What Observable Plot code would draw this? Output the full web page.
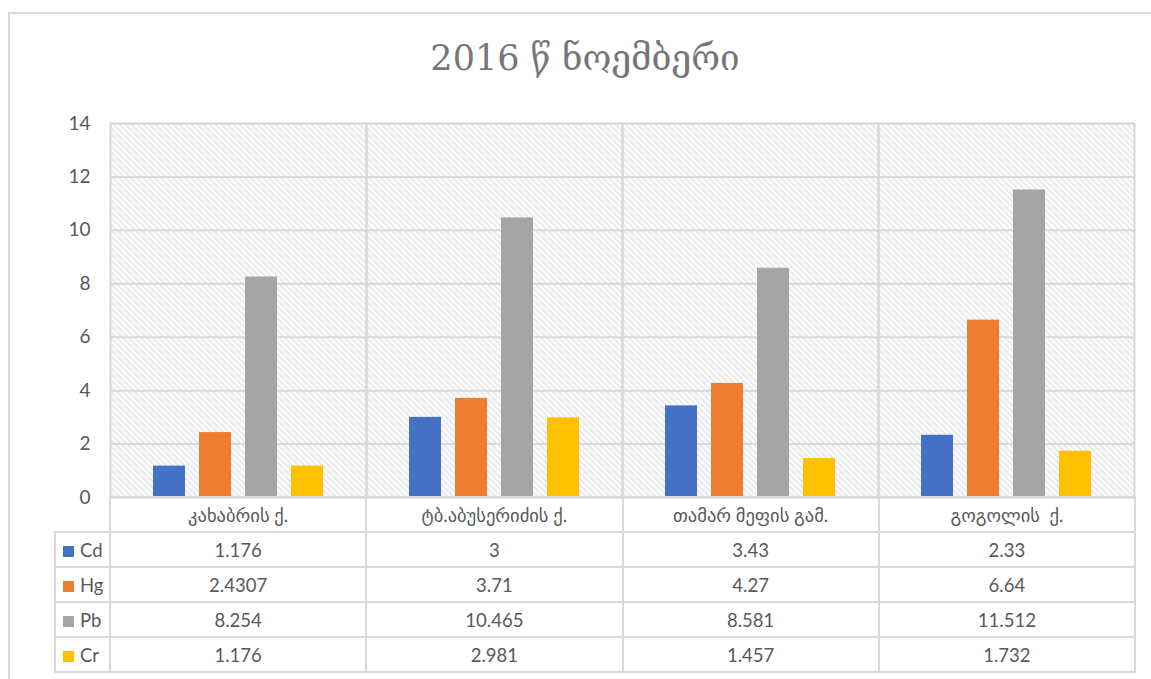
<!DOCTYPE html>
<html>
<head>
<meta charset="utf-8">
<script src="https://cdn.jsdelivr.net/npm/d3@7"></script>
<script src="https://cdn.jsdelivr.net/npm/@observablehq/plot@0.6"></script>
<style>
  body { margin: 0; background: #fff; font-family: Lato, "DejaVu Sans", sans-serif; }
  #wrap { position: relative; width: 1151px; height: 679px; overflow: hidden; }
  #outer { position: absolute; left: 8px; top: 12px; width: 1170px; height: 720px; border: 2px solid #d9d9d9; box-sizing: border-box; }
  #title { position: absolute; left: 10px; width: 1150px; top: 38px; text-align: center; font-family: "DejaVu Serif", serif; font-size: 35px; color: #767676; }
  #chart { position: absolute; left: 0; top: 0; }
  #tbl { position: absolute; left: 54px; top: 496px; border-collapse: collapse; table-layout: fixed; color: #595959; font-size: 18.5px; }
  #tbl td { border: 2px solid #d9d9d9; height: 33px; padding: 0; text-align: center; white-space: pre; }
  #tbl td.empty { border: none; }
  #tbl td.lab { text-align: left; padding-left: 7px; }
  .sw { display: inline-block; width: 11px; height: 11px; margin-right: 6px; vertical-align: 0px; }
</style>
</head>
<body>
<div id="wrap">
  <div id="outer"></div>
  <div id="chart"></div>
  <div id="title"></div>
  <table id="tbl"></table>
</div>
<script>
const title = "2016 წ ნოემბერი";
const categories = ["კახაბრის ქ.", "ტბ.აბუსერიძის ქ.", "თამარ მეფის გამ.", "გოგოლის  ქ."];
const series = ["Cd", "Hg", "Pb", "Cr"];
const cd = [1.176, 3, 3.43, 2.33];
const hg = [2.4307, 3.71, 4.27, 6.64];
const pb = [8.254, 10.465, 8.581, 11.512];
const cr = [1.176, 2.981, 1.457, 1.732];
const labelsCd = ["1.176", "3", "3.43", "2.33"];
const labelsHg = ["2.4307", "3.71", "4.27", "6.64"];
const labelsPb = ["8.254", "10.465", "8.581", "11.512"];
const labelsCr = ["1.176", "2.981", "1.457", "1.732"];
const colors = ["#4472C4", "#ED7D31", "#A5A5A5", "#FFC000"];
const yTicks = [0, 2, 4, 6, 8, 10, 12, 14];

const values = [cd, hg, pb, cr];
const labels = [labelsCd, labelsHg, labelsPb, labelsCr];
const rows = categories.flatMap((c, i) => series.map((s, j) => ({category: c, series: s, value: values[j][i]})));

document.getElementById("title").textContent = title;

const chart = Plot.plot({
  width: 1151,
  height: 500,
  marginLeft: 109,
  marginRight: 17,
  marginTop: 123,
  marginBottom: 3,
  style: {fontFamily: "Lato, 'DejaVu Sans', sans-serif", background: "transparent", overflow: "visible"},
  fx: {domain: categories, padding: 0, axis: null, label: null},
  x: {domain: series, paddingInner: 0.31, paddingOuter: 0.9, axis: null, label: null},
  y: {domain: [0, 14], axis: null, label: null},
  color: {domain: series, range: colors},
  marks: [
    Plot.frame({fill: "url(#hatch)"}),
    Plot.gridY(yTicks, {stroke: "#d9d9d9", strokeOpacity: 1, strokeWidth: 2}),
    Plot.frame({stroke: "#d9d9d9", strokeWidth: 2}),
    Plot.barY(rows, {fx: "category", x: "series", y: "value", fill: "series"}),
    Plot.axisY(yTicks, {tickSize: 0, tickPadding: 20, fontSize: 19, fill: "#595959", label: null})
  ]
});

const defs = d3.create("svg:defs");
const pat = defs.append("pattern").attr("id", "hatch").attr("patternUnits", "userSpaceOnUse").attr("width", 6).attr("height", 6);
pat.append("rect").attr("width", 6).attr("height", 6).attr("fill", "#fff");
pat.append("path").attr("d", "M-1,-1L7,7M-1,5L1,7M5,-1L7,1").attr("stroke", "#e0e0e0").attr("stroke-width", 1.3).attr("fill", "none");
chart.insertBefore(defs.node(), chart.firstChild);
document.getElementById("chart").appendChild(chart);

// data table
const tbl = d3.select("#tbl");
const cg = tbl.append("colgroup");
cg.append("col").style("width", "55px");
categories.forEach(() => cg.append("col").style("width", "256.25px"));
const hdr = tbl.append("tr");
hdr.append("td").attr("class", "empty");
categories.forEach(c => hdr.append("td").text(c));
series.forEach((s, j) => {
  const tr = tbl.append("tr");
  const lab = tr.append("td").attr("class", "lab");
  lab.append("span").attr("class", "sw").style("background", colors[j]);
  lab.append("span").text(s);
  labels[j].forEach(v => tr.append("td").text(v));
});
</script>
</body>
</html>
